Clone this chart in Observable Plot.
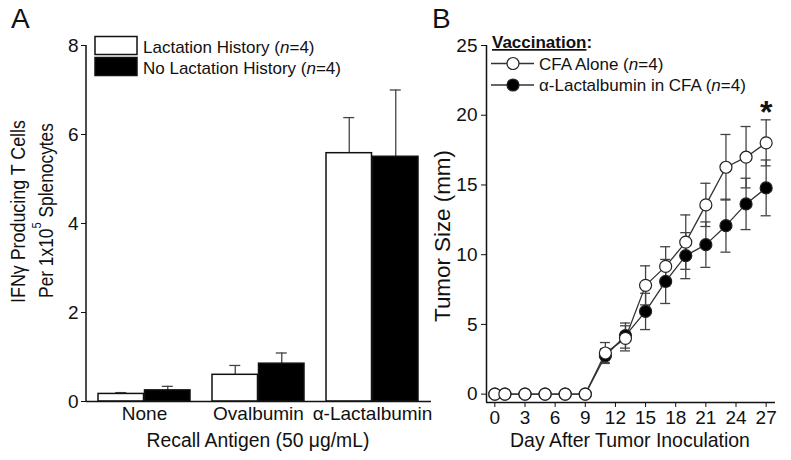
<!DOCTYPE html>
<html><head><meta charset="utf-8">
<script src="https://cdn.jsdelivr.net/npm/d3@7"></script>
<script src="https://cdn.jsdelivr.net/npm/@observablehq/plot@0.6"></script>
<style>
body{margin:0;background:#fff;}
#wrap{position:relative;width:791px;height:460px;font-family:"Liberation Sans",Arial,sans-serif;color:#111;}
#a{position:absolute;left:0;top:0}
#b{position:absolute;left:440px;top:0}
#ov{position:absolute;left:0;top:0;pointer-events:none}
</style></head><body><div id="wrap"><div id="a"></div><div id="b"></div></div>
<script>
// ---- Panel A data ----
const antigens = ["None", "Ovalbumin", "α-Lactalbumin"];
const lactMean = [0.17, 0.6, 5.58];
const lactErr = [0.03, 0.21, 0.8];
const noLactMean = [0.25, 0.85, 5.5];
const noLactErr = [0.09, 0.24, 1.5];
const yTicksA = [0, 2, 4, 6, 8];
const seriesA = ["Lactation History", "No Lactation History"];

// ---- Panel B data ----
const days = [0, 1, 3, 5, 7, 9, 11, 13, 15, 17, 19, 21, 23, 25, 27];
const cfaMean = [0, 0, 0, 0, 0, 0, 2.95, 4.0, 7.8, 9.16, 10.9, 13.57, 16.27, 16.99, 18.02];
const cfaErr = [0, 0, 0, 0, 0, 0, 0.75, 0.9, 1.4, 1.41, 1.95, 1.55, 2.35, 2.2, 1.65];
const lacMean = [0, 0, 0, 0, 0, 0, 2.75, 4.2, 5.93, 8.08, 9.93, 10.72, 12.08, 13.64, 14.79];
const lacErr = [0, 0, 0, 0, 0, 0, 0.5, 0.9, 1.3, 1.58, 1.65, 1.63, 1.9, 1.84, 2.0];
const xTicksB = [0, 3, 6, 9, 12, 15, 18, 21, 24, 27];
const yTicksB = [0, 5, 10, 15, 20, 25];
const seriesB = ["CFA Alone", "α-Lactalbumin in CFA"];
const sigDay = [27];

const FONT = '"Liberation Sans", Arial, sans-serif';
const INK = "#111";
const ERR = "#444";

// ---------- Panel A ----------
const tableA = antigens.map((a, i) => ({
  antigen: a,
  lact: lactMean[i], lactHi: lactMean[i] + lactErr[i],
  no: noLactMean[i], noHi: noLactMean[i] + noLactErr[i]
}));
const halfA = 46.5, capInsetA = 40.5, offA = 23.25;
const chartA = Plot.plot({
  width: 440, height: 460,
  marginLeft: 86, marginRight: 9, marginTop: 45, marginBottom: 59,
  style: {fontFamily: FONT, fontSize: "19px", color: INK, background: "transparent", overflow: "visible"},
  x: {domain: antigens, paddingInner: 0.19, paddingOuter: 0.096, label: null, tickSize: 0, tickPadding: 5},
  y: {domain: [0, 8], ticks: yTicksA, tickSize: 5, tickPadding: 3, label: null},
  marks: [
    Plot.ruleX(tableA, {x: "antigen", y1: "lact", y2: "lactHi", dx: -offA, stroke: ERR, strokeWidth: 1.3}),
    Plot.tickY(tableA, {x: "antigen", y: "lactHi", dx: -offA, insetLeft: capInsetA, insetRight: capInsetA, stroke: ERR, strokeWidth: 1.3}),
    Plot.ruleX(tableA, {x: "antigen", y1: "no", y2: "noHi", dx: offA, stroke: ERR, strokeWidth: 1.3}),
    Plot.tickY(tableA, {x: "antigen", y: "noHi", dx: offA, insetLeft: capInsetA, insetRight: capInsetA, stroke: ERR, strokeWidth: 1.3}),
    Plot.barY(tableA, {x: "antigen", y: "lact", insetRight: halfA, fill: "#fff", stroke: INK, strokeWidth: 1.5}),
    Plot.barY(tableA, {x: "antigen", y: "no", insetLeft: halfA, fill: "#000", stroke: INK, strokeWidth: 1.5}),
    Plot.ruleY([0], {stroke: INK, strokeWidth: 1.5})
  ]
});
document.getElementById("a").appendChild(chartA);
{
  const ys = chartA.scale("y"), xs = chartA.scale("x");
  d3.select(chartA).append("line")
    .attr("x1", xs.range[0]).attr("x2", xs.range[0])
    .attr("y1", ys.apply(0)).attr("y2", ys.apply(8))
    .attr("stroke", INK).attr("stroke-width", 1.5);
}

// ---------- Panel B ----------
const mk = (m, e) => days.map((d, i) => ({day: d, y: m[i], lo: m[i] - e[i], hi: m[i] + e[i], err: e[i]}));
const cfa = mk(cfaMean, cfaErr);
const lac = mk(lacMean, lacErr);
const cfaE = cfa.filter(d => d.err > 0), lacE = lac.filter(d => d.err > 0);
const capB = -5;
const errMarks = (data) => [
  Plot.ruleX(data, {x: "day", y1: "lo", y2: "hi", stroke: ERR, strokeWidth: 1.3}),
  Plot.ruleY(data, {x1: "day", x2: "day", y: "hi", insetLeft: capB, insetRight: capB, stroke: ERR, strokeWidth: 1.3}),
  Plot.ruleY(data, {x1: "day", x2: "day", y: "lo", insetLeft: capB, insetRight: capB, stroke: ERR, strokeWidth: 1.3})
];
const chartB = Plot.plot({
  width: 351, height: 460,
  marginLeft: 46, marginRight: 16, marginTop: 45, marginBottom: 58,
  style: {fontFamily: FONT, fontSize: "19px", color: INK, background: "transparent", overflow: "visible"},
  x: {domain: [-0.83, 27.93], ticks: xTicksB, tickSize: 5, tickPadding: 3, label: null},
  y: {domain: [-0.6, 25], ticks: yTicksB, tickSize: 5, tickPadding: 4, label: null},
  marks: [
    ...errMarks(lacE),
    ...errMarks(cfaE),
    Plot.line(lac, {x: "day", y: "y", stroke: "#333", strokeWidth: 1.3}),
    Plot.line(cfa, {x: "day", y: "y", stroke: "#333", strokeWidth: 1.3}),
    Plot.dot(lac, {x: "day", y: "y", r: 6, fill: "#000", stroke: "#222", strokeWidth: 1.2}),
    Plot.dot(cfa, {x: "day", y: "y", r: 6, fill: "#fff", stroke: "#222", strokeWidth: 1.2}),
    Plot.text(sigDay, {x: d => d, y: 20.15, text: () => "*", fontSize: 32, fontWeight: "bold", fill: INK}),
    Plot.ruleY([-0.6], {stroke: INK, strokeWidth: 1.5}),
    Plot.ruleX([-0.83], {stroke: INK, strokeWidth: 1.5})
  ]
});
document.getElementById("b").appendChild(chartB);

// ---------- Annotations overlay ----------
const ov = d3.select("#wrap").append("svg").attr("id", "ov")
  .attr("width", 791).attr("height", 460)
  .style("font-family", FONT).attr("fill", INK);

// scale a text's font so its rendered length matches the reference length
function fit(sel, base, target) {
  const L = sel.node().getComputedTextLength();
  if (L > 0) sel.attr("font-size", base * target / L);
  return sel;
}
// compress/stretch a rotated label along its length to the reference length
function fitLen(sel, tr, target) {
  const L = sel.node().getComputedTextLength();
  if (L > 0) sel.attr("transform", tr + " scale(" + (target / L) + ",1)");
  return sel;
}

ov.append("text").attr("x", 11).attr("y", 28).attr("font-size", 28).text("A");
ov.append("text").attr("x", 432).attr("y", 28).attr("font-size", 28).text("B");

// Panel A y label (two lines)
const tr1 = "translate(18.5,211.5) rotate(-90)";
const yl1 = ov.append("text").attr("transform", tr1)
  .attr("text-anchor", "middle").attr("dominant-baseline", "central").attr("font-size", 20.5);
yl1.text("IFNγ Producing T Cells");
fitLen(yl1, tr1, 183);
const tr2 = "translate(45,210.5) rotate(-90)";
const yl2 = ov.append("text").attr("transform", tr2)
  .attr("text-anchor", "middle").attr("dominant-baseline", "central").attr("font-size", 20.5);
yl2.append("tspan").text("Per 1x10");
yl2.append("tspan").attr("dy", -8).attr("font-size", "0.65em").text("5");
yl2.append("tspan").attr("dy", 8).text(" Splenocytes");
fitLen(yl2, tr2, 175);

const xlA = ov.append("text").attr("x", 258).attr("y", 447).attr("text-anchor", "middle").attr("font-size", 19)
  .text("Recall Antigen (50 μg/mL)");
fit(xlA, 19, 223);

// Panel A legend
ov.append("rect").attr("x", 95).attr("y", 36.5).attr("width", 42).attr("height", 18)
  .attr("fill", "#fff").attr("stroke", INK).attr("stroke-width", 1.5);
ov.append("rect").attr("x", 95).attr("y", 57.5).attr("width", 42).attr("height", 18)
  .attr("fill", "#000").attr("stroke", INK).attr("stroke-width", 1.5);
seriesA.forEach((s, i) => {
  const t = ov.append("text").attr("x", 143).attr("y", 53 + i * 20.5).attr("font-size", 17);
  t.append("tspan").text(s + " (");
  t.append("tspan").attr("font-style", "italic").text("n");
  t.append("tspan").text("=4)");
});

// Panel B axis labels
const ylB = ov.append("text").attr("transform", "translate(442,236) rotate(-90)")
  .attr("text-anchor", "middle").attr("dominant-baseline", "central").attr("font-size", 19)
  .text("Tumor Size (mm)");
fit(ylB, 19, 172);
const xlB = ov.append("text").attr("x", 630).attr("y", 447).attr("text-anchor", "middle").attr("font-size", 19)
  .text("Day After Tumor Inoculation");
fit(xlB, 19, 240);

// Panel B legend
const vt = ov.append("text").attr("x", 492).attr("y", 48).attr("font-size", 17).attr("font-weight", "bold");
vt.append("tspan").attr("text-decoration", "underline").text("Vaccination");
vt.append("tspan").text(":");
seriesB.forEach((s, i) => {
  const y = 63.5 + i * 21.5;
  ov.append("line").attr("x1", 491).attr("x2", 534).attr("y1", y).attr("y2", y)
    .attr("stroke", "#333").attr("stroke-width", 1.3);
  ov.append("circle").attr("cx", 513).attr("cy", y).attr("r", 6)
    .attr("fill", i === 0 ? "#fff" : "#000").attr("stroke", "#222").attr("stroke-width", 1.2);
  const t = ov.append("text").attr("x", 539).attr("y", y + 6).attr("font-size", 17);
  t.append("tspan").text(s + " (");
  t.append("tspan").attr("font-style", "italic").text("n");
  t.append("tspan").text("=4)");
});
</script></body></html>
